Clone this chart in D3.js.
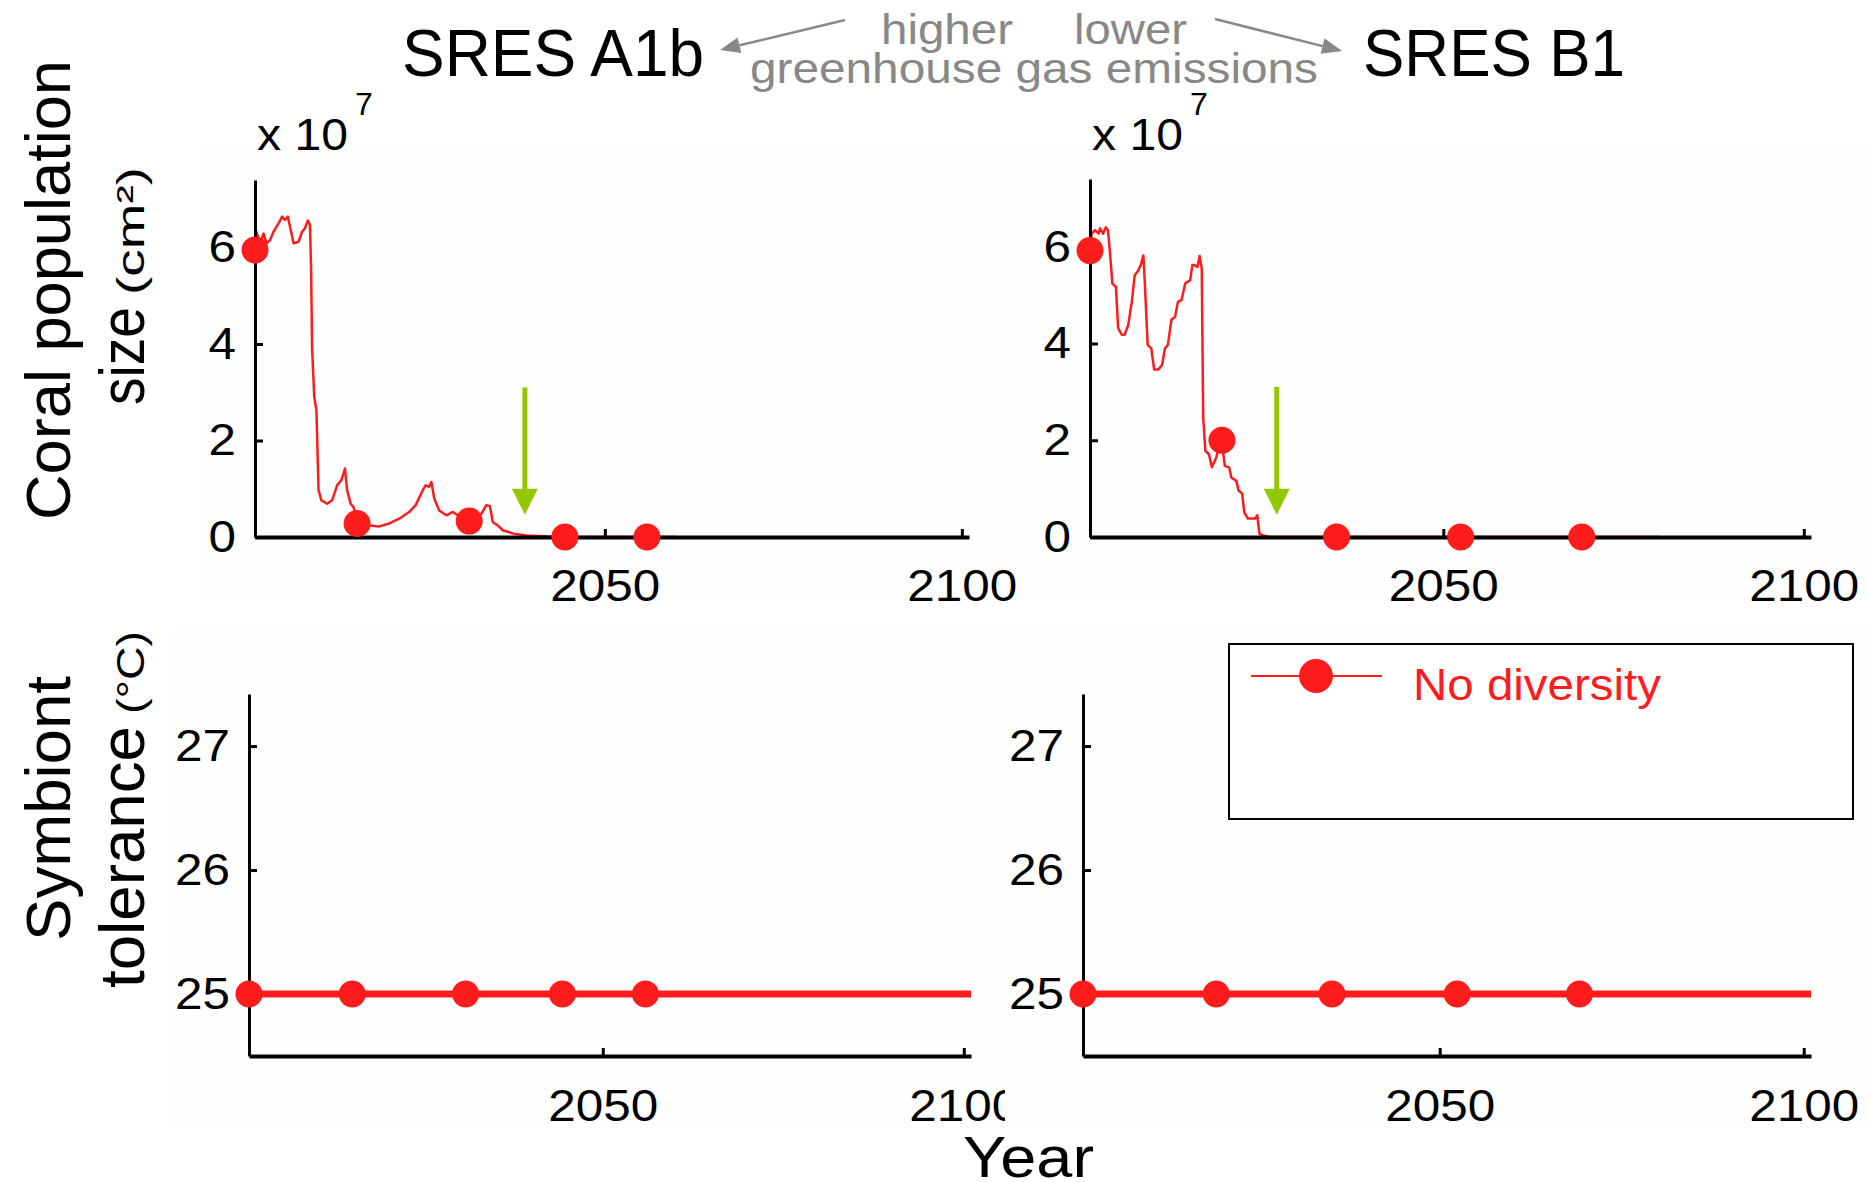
<!DOCTYPE html>
<html>
<head>
<meta charset="utf-8">
<script src="https://cdn.jsdelivr.net/npm/d3@7"></script>
<style>
  body { margin: 0; background: #fff; }
  text { font-family: "Liberation Sans", Arial, Helvetica, sans-serif; }
</style>
</head>
<body>
<script>
const width = 1867, height = 1182
const red = "#ff1c1c"
const green = "#92c800"

// coral population size, x 10^7 cm2
const yearsA1b = [2001.0, 2001.2, 2001.7, 2002.2, 2002.6, 2003.1, 2003.6, 2004.3, 2004.8, 2005.2,
  2005.6, 2005.9, 2006.4, 2007.1, 2007.6, 2008.0, 2008.4, 2008.7, 2008.85, 2009.0,
  2009.3, 2009.6, 2009.9, 2010.3, 2011.1, 2011.8, 2012.5, 2013.1, 2013.6, 2013.9,
  2014.4, 2014.8, 2015.5, 2017.0, 2018.4, 2019.8, 2021.2, 2022.6, 2023.5, 2024.5,
  2024.9, 2025.4, 2025.7, 2026.1, 2026.8, 2027.8, 2028.7, 2029.4, 2031.1, 2032.7,
  2033.4, 2033.9, 2034.3, 2035.0, 2035.7, 2037.2, 2039.0, 2042.3, 2045.0, 2059.8]
const popA1b = [5.95, 6.33, 6.09, 6.29, 6.09, 6.15, 6.33, 6.50, 6.64, 6.57,
  6.64, 6.43, 6.09, 6.12, 6.33, 6.40, 6.56, 6.47, 5.6, 3.9,
  2.90, 2.63, 0.97, 0.76, 0.69, 0.76, 1.07, 1.18, 1.42, 0.97,
  0.69, 0.62, 0.28, 0.24, 0.22, 0.28, 0.38, 0.52, 0.66, 0.97,
  1.07, 1.04, 1.14, 0.80, 0.55, 0.45, 0.52, 0.45, 0.33, 0.48,
  0.66, 0.64, 0.31, 0.24, 0.14, 0.07, 0.03, 0.01, 0, 0]

const yearsB1 = [2001.0, 2001.2, 2001.7, 2002.2, 2002.4, 2002.8, 2003.2, 2003.5, 2003.8, 2004.1,
  2004.6, 2004.9, 2005.4, 2005.8, 2006.3, 2006.8, 2007.2, 2007.7, 2008.1, 2008.4,
  2008.6, 2009.0, 2009.5, 2009.9, 2010.5, 2011.0, 2011.4, 2011.8, 2012.3, 2012.8,
  2013.2, 2013.7, 2014.2, 2014.9, 2015.2, 2015.5, 2015.9, 2016.2, 2016.5, 2016.7,
  2017.0, 2017.5, 2017.9, 2018.5, 2019.2, 2019.5, 2019.7, 2020.3, 2020.6, 2021.3,
  2021.6, 2022.1, 2022.4, 2022.9, 2023.9, 2024.2, 2024.5, 2025.0, 2026.0, 2080.0]
const popB1 = [5.92, 6.27, 6.34, 6.27, 6.38, 6.27, 6.40, 6.34, 5.82, 5.24,
  5.17, 4.32, 4.18, 4.18, 4.38, 4.86, 5.41, 5.51, 5.65, 5.82,
  5.27, 3.97, 3.90, 3.46, 3.46, 3.56, 3.90, 3.97, 4.49, 4.55,
  4.86, 4.90, 5.24, 5.31, 5.62, 5.62, 5.58, 5.81, 5.55, 2.47,
  1.78, 1.71, 1.44, 1.64, 2.0, 1.71, 1.47, 1.44, 1.23, 1.16,
  0.96, 0.90, 0.51, 0.38, 0.38, 0.45, 0.07, 0.03, 0, 0]

const markerYearsA1b = [2001, 2015.3, 2031.0, 2044.4, 2055.9]
const markerPopA1b = [5.95, 0.28, 0.33, 0, 0]
const markerYearsB1 = [2001, 2019.3, 2035.2, 2052.4, 2069.2]
const markerPopB1 = [5.92, 2.0, 0, 0, 0]

// symbiont tolerance (deg C)
const tolYears = [2001, 2101]
const tolValues = [25, 25]
const tolMarkerValue = 25

// green arrows: year, top value, tip value
const arrowYears = [2038.8, 2026.9]
const arrowTop = 3.1
const arrowTip = 0.46

const yearTicks = [2050, 2100]
const popTicks = [0, 2, 4, 6]
const tolTicks = [25, 26, 27]

const svg = d3.select("body").append("svg")
    .attr("width", width)
    .attr("height", height)
    .attr("xmlns", "http://www.w3.org/2000/svg")

svg.append("rect")
    .attr("width", width)
    .attr("height", height)
    .style("fill", "white")

const defs = svg.append("defs")
defs.append("clipPath").attr("id", "clipBL")
  .append("rect").attr("x", 0).attr("y", 600).attr("width", 1005).attr("height", 523)

const addText = (parent, str, o) => {
  const t = parent.append("text")
      .attr("transform", `translate(${o.x},${o.y})` + (o.rot ? ` rotate(${o.rot})` : ""))
      .attr("font-size", o.size)
      .attr("text-anchor", o.anchor || "start")
      .style("fill", o.fill || "black")
      .text(str)
  if (o.len) t.attr("textLength", o.len).attr("lengthAdjust", "spacingAndGlyphs")
  return t
}

// faint panel tiles
const tiles = [[200, 148, 836, 452], [1036, 148, 831, 452], [170, 630, 835, 493], [1005, 630, 862, 493]]
tiles.forEach(t => {
  svg.append("rect")
      .attr("x", t[0]).attr("y", t[1]).attr("width", t[2]).attr("height", t[3])
      .style("fill", "#fefefe")
})

const drawPanel = (p) => {
  const g = svg.append("g")
  if (p.clip) g.attr("clip-path", `url(#${p.clip})`)

  const x = d3.scaleLinear().domain([2001, 2101]).range(p.xr)
  const y = d3.scaleLinear().domain(p.yd).range(p.yr)

  // data
  const line = d3.line().x(d => x(d[0])).y(d => y(d[1]))
  g.append("path")
      .datum(d3.zip(p.years, p.values))
      .attr("d", line)
      .style("fill", "none")
      .style("stroke", red)
      .style("stroke-width", p.lw)
      .style("stroke-linejoin", "round")

  // axes
  const xAxis = g.append("g")
      .attr("transform", `translate(0,${p.yr[0]})`)
      .call(d3.axisBottom(x).tickValues(yearTicks).tickFormat(d3.format("d"))
        .tickSize(-8).tickSizeOuter(0).tickPadding(p.xPad))
  xAxis.select(".domain").style("stroke", "black").style("stroke-width", 4)

  const yAxis = g.append("g")
      .attr("transform", `translate(${p.xr[0]},0)`)
      .call(d3.axisLeft(y).tickValues(p.ticks).tickFormat(d3.format("d"))
        .tickSize(-8).tickSizeOuter(0).tickPadding(19))
  yAxis.select(".domain").style("stroke", "black").style("stroke-width", 3)

  ;[xAxis, yAxis].forEach(a => {
    a.selectAll(".tick line").style("stroke", "black").style("stroke-width", 3)
    a.selectAll(".tick text")
        .attr("font-size", 45)
        .attr("font-family", null)
        .style("fill", "black")
        .attr("textLength", function() { return this.textContent.length * 27.5 })
        .attr("lengthAdjust", "spacingAndGlyphs")
  })

  // markers
  g.selectAll("circle.m")
      .data(d3.zip(p.mYears, p.mValues))
      .join("circle")
      .attr("class", "m")
      .attr("cx", d => x(d[0]))
      .attr("cy", d => y(d[1]))
      .attr("r", 13.5)
      .style("fill", red)

  if (p.arrowYear !== undefined) {
    const ax = x(p.arrowYear)
    const tip = y(arrowTip)
    g.append("line")
        .attr("x1", ax).attr("x2", ax)
        .attr("y1", y(arrowTop)).attr("y2", tip - 20)
        .style("stroke", green)
        .style("stroke-width", 5)
    g.append("path")
        .attr("d", `M${ax - 13},${tip - 26}L${ax + 13},${tip - 26}L${ax},${tip}Z`)
        .style("fill", green)
  }
  return g
}

drawPanel({ xr: [255, 969], yr: [537, 180], yd: [0, 7.4], ticks: popTicks, xPad: 32,
  years: yearsA1b, values: popA1b, mYears: markerYearsA1b, mValues: markerPopA1b, lw: 2.5, arrowYear: arrowYears[0] })
drawPanel({ xr: [1090, 1811], yr: [537, 179], yd: [0, 7.4], ticks: popTicks, xPad: 32,
  years: yearsB1, values: popB1, mYears: markerYearsB1, mValues: markerPopB1, lw: 2.5, arrowYear: arrowYears[1] })
drawPanel({ xr: [249, 971], yr: [1056, 694], yd: [24.5, 27.42], ticks: tolTicks, xPad: 33, clip: "clipBL",
  years: tolYears, values: tolValues, mYears: markerYearsA1b, mValues: markerYearsA1b.map(() => tolMarkerValue), lw: 7 })
drawPanel({ xr: [1083, 1811], yr: [1056, 694], yd: [24.5, 27.42], ticks: tolTicks, xPad: 33,
  years: tolYears, values: tolValues, mYears: markerYearsB1, mValues: markerYearsB1.map(() => tolMarkerValue), lw: 7 })

// exponent labels
;[[257, 355], [1092, 1190]].forEach(e => {
  addText(svg, "x 10", { x: e[0], y: 150, size: 44, len: 91 })
  addText(svg, "7", { x: e[1], y: 115, size: 32 })
})

// titles
addText(svg, "SRES A1b", { x: 402, y: 76, size: 66, len: 302 })
addText(svg, "SRES B1", { x: 1363, y: 76, size: 66, len: 262 })

const gray = "#888888"
addText(svg, "higher", { x: 881, y: 44, size: 43, len: 132, fill: gray })
addText(svg, "lower", { x: 1074, y: 44, size: 43, len: 113, fill: gray })
addText(svg, "greenhouse gas emissions", { x: 750, y: 83, size: 43, len: 568, fill: gray })

const grayArrow = (x1, y1, x2, y2) => {
  const a = Math.atan2(y2 - y1, x2 - x1)
  const hl = 20, hw = 8
  const bx = x2 - hl * Math.cos(a), by = y2 - hl * Math.sin(a)
  svg.append("line")
      .attr("x1", x1).attr("y1", y1).attr("x2", bx).attr("y2", by)
      .style("stroke", gray).style("stroke-width", 2.5)
  svg.append("path")
      .attr("d", `M${x2},${y2}L${bx - hw * Math.sin(a)},${by + hw * Math.cos(a)}L${bx + hw * Math.sin(a)},${by - hw * Math.cos(a)}Z`)
      .style("fill", gray)
}
grayArrow(845, 20, 720, 50)
grayArrow(1215, 19, 1342, 51)

// axis titles
addText(svg, "Coral population", { x: 70, y: 520, size: 63, len: 460, rot: -90 })
addText(svg, "size", { x: 144, y: 405, size: 63, len: 98, rot: -90 })
addText(svg, "(cm²)", { x: 144, y: 295, size: 38, len: 128, rot: -90 })
addText(svg, "Symbiont", { x: 70, y: 941, size: 63, len: 265, rot: -90 })
addText(svg, "tolerance", { x: 144, y: 988, size: 63, len: 262, rot: -90 })
addText(svg, "(°C)", { x: 144, y: 714, size: 38, len: 83, rot: -90 })
addText(svg, "Year", { x: 963, y: 1177, size: 58, len: 131 })

// legend
const legend = svg.append("g")
legend.append("rect")
    .attr("x", 1229).attr("y", 644).attr("width", 624).attr("height", 175)
    .style("fill", "white").style("stroke", "black").style("stroke-width", 2)
legend.append("line")
    .attr("x1", 1251).attr("x2", 1382).attr("y1", 676).attr("y2", 676)
    .style("stroke", red).style("stroke-width", 2)
legend.append("circle")
    .attr("cx", 1316).attr("cy", 676).attr("r", 17)
    .style("fill", red)
addText(legend, "No diversity", { x: 1413, y: 700, size: 45, len: 248, fill: red })
</script>
</body>
</html>
